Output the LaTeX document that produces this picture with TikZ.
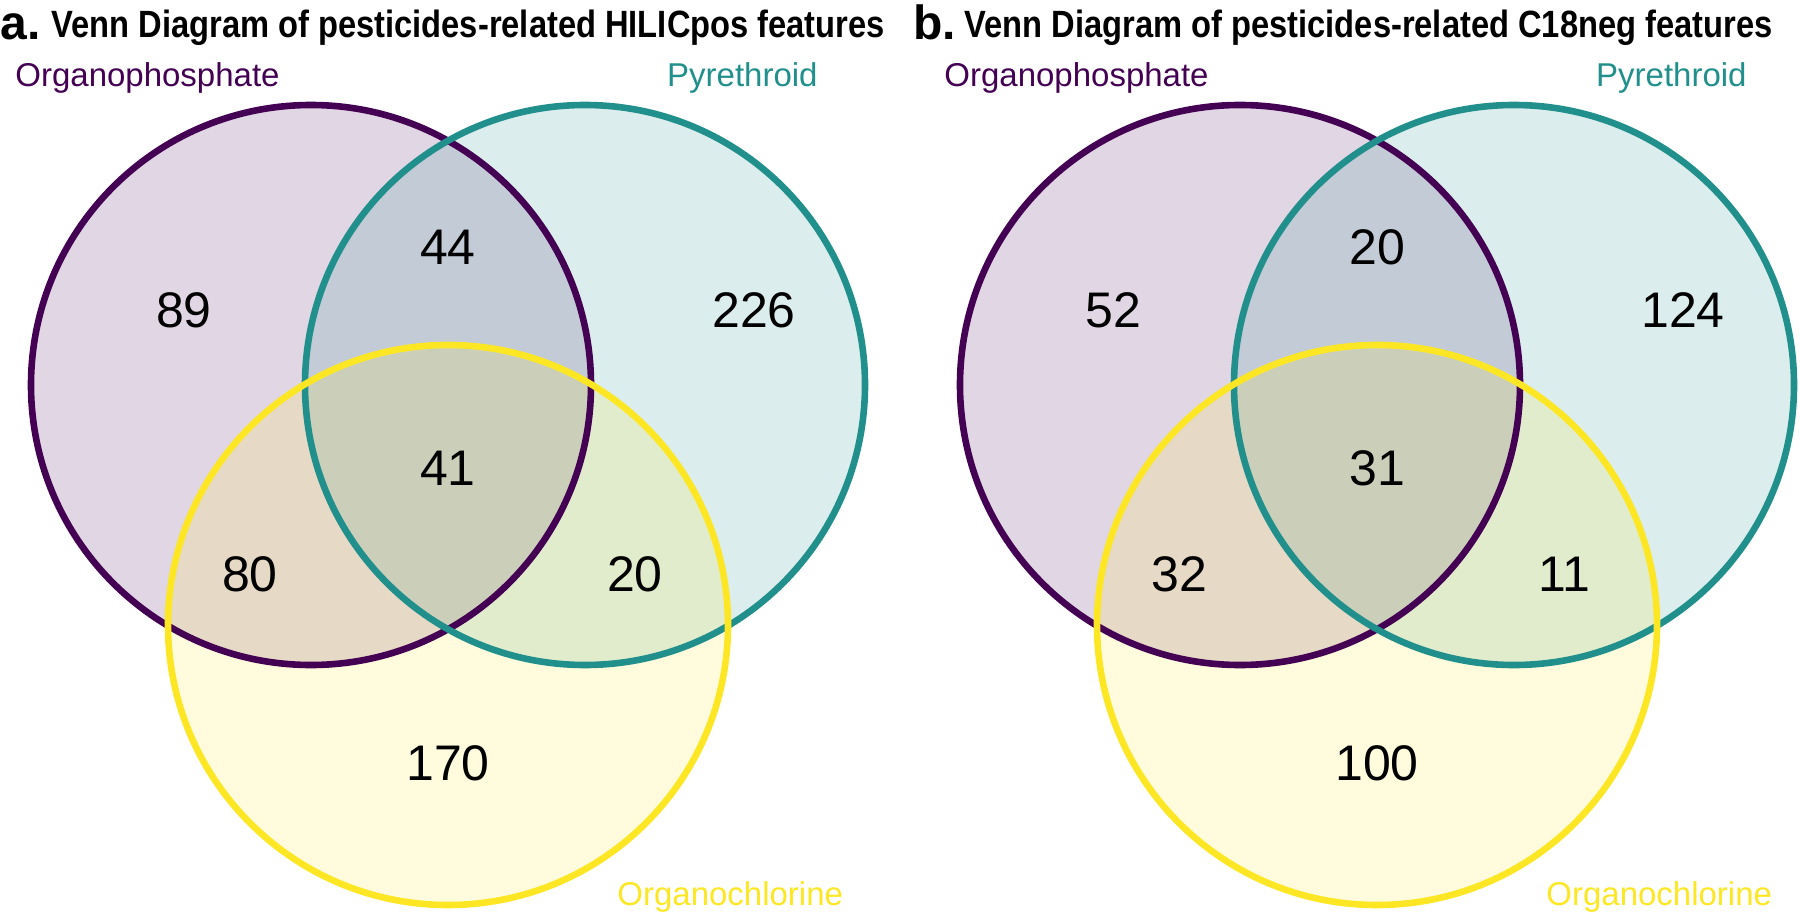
\documentclass[tikz,border=0pt]{standalone}
\usepackage{fontspec}
\setmainfont{Liberation Sans}
\usetikzlibrary{positioning}
\definecolor{opviolet}{HTML}{440154}
\definecolor{pyteal}{HTML}{21908C}
\definecolor{ocyellow}{HTML}{FDE725}
\tikzset{
  setfill/.style={fill=#1,fill opacity=0.16},
  setring/.style={line width=3.3pt,draw=#1},
  count/.style={font=\fontsize{25}{26}\selectfont,inner sep=0pt},
  setname/.style={font=\fontsize{16.5}{18}\selectfont,inner sep=0pt},
  paneltag/.style={font=\fontsize{24}{26}\selectfont\bfseries,inner sep=0pt,text height=0.55em,anchor=base west},
  paneltitle/.style={font=\fontsize{19}{20}\selectfont\bfseries,inner sep=0pt,text height=0.75em,anchor=base west}
}

\begin{document}
\begin{tikzpicture}[x=0.5pt,y=-0.5pt]
  \useasboundingbox (0,0) rectangle (1800,915);
  \foreach \dx/\hx/\tag/\assay/\vop/\vopy/\vpy/\vall/\vopoc/\vpyoc/\voc in
    {0/0/a/HILICpos/89/44/226/41/80/20/170,929/913/b/C18neg/52/20/124/31/32/11/100} {
    \node[paneltag] (tag-\tag) at (\hx,40) {\tag.};
    \node[paneltitle] (title-\tag) at (\hx+51,38) {\scalebox{0.86}[1]{Venn Diagram of pesticides-related \assay\ features}};
    \begin{scope}[shift={(\dx,0)}]
      \foreach \ring/\cx/\cy in {opviolet/311/385,pyteal/585/385,ocyellow/448/625}
        \fill[setfill=\ring] (\cx,\cy) circle[radius=280];
      \foreach \ring/\cx/\cy in {opviolet/311/385,pyteal/585/385,ocyellow/448/625}
        \draw[setring=\ring] (\cx,\cy) circle[radius=280];
      \node[setname,text=opviolet,anchor=base west] (opname-\tag) at (15,87) {Organophosphate};
      \node[setname,text=pyteal,anchor=base east] (pyname-\tag) at (818,87) {Pyrethroid};
      \node[setname,text=ocyellow,anchor=base west] (ocname-\tag) at (617,905) {Organochlorine};
      \node[count] (op-\tag) at (184,310) {\vop};
      \node[count] (opy-\tag) at (448,247) {\vopy};
      \node[count] (py-\tag) at (754,310) {\vpy};
      \node[count] (all-\tag) at (448,468) {\vall};
      \node[count] (opoc-\tag) at (250,574) {\vopoc};
      \node[count] (pyoc-\tag) at (635,574) {\vpyoc};
      \node[count] (oc-\tag) at (448,763) {\voc};
    \end{scope}
  }
\end{tikzpicture}
\end{document}
